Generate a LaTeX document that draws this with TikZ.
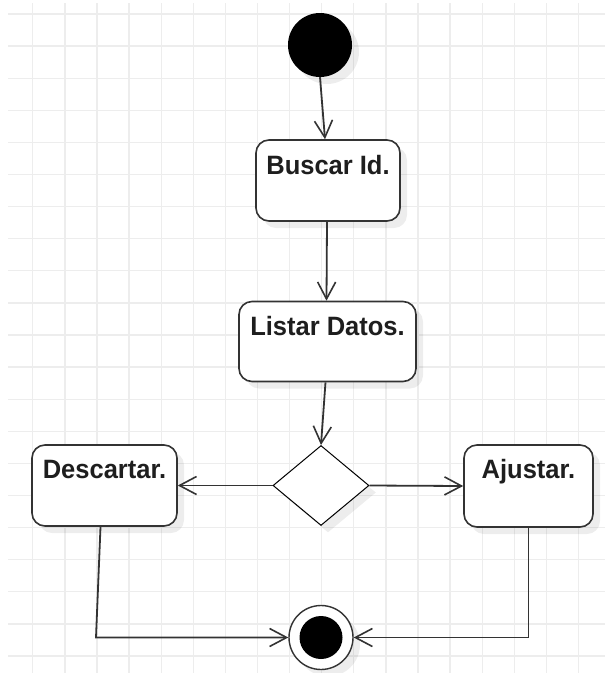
\documentclass[tikz,border=0pt]{standalone}
\usepackage{fontspec}
\setmainfont{Liberation Sans}
\usetikzlibrary{arrows.meta,shapes.geometric,shadows}
\definecolor{gridc}{HTML}{EDEDED}
\definecolor{linec}{HTML}{333333}
\definecolor{textc}{HTML}{1E1E1E}
\begin{document}
\begin{tikzpicture}[x=1pt,y=-1pt,
  shad/.style={drop shadow={shadow xshift=7pt,shadow yshift=-7pt,opacity=0.07,fill=black}},
  actbox/.style={draw=linec, line width=1.6pt, rounded corners=13pt, fill=white, shad, inner sep=0pt},
  lbl/.style={font=\fontsize{25.5}{30}\selectfont\bfseries, text=textc, anchor=base, inner sep=0pt, yscale=1.04},
  conn/.style={draw=linec, line width=1.8pt, -{Straight Barb[length=17pt,width=18pt,line width=1.6pt]}}]
\useasboundingbox (0,0) rectangle (605,673);
\fill[white] (0,0) rectangle (605,673);
% grid
\foreach \i in {0,...,17} \draw[gridc, line width=1.3pt] ({32.8+32.1*\i},3) -- ({32.8+32.1*\i},673);
\foreach \j in {0,...,20} \draw[gridc, line width=1.3pt] (8,{14+32.1*\j}) -- (605,{14+32.1*\j});
% nodes
\node[circle, fill=black, minimum size=64pt, inner sep=0pt, shad] (start) at (320,45) {};
\node[actbox, minimum width=144pt, minimum height=81pt] (buscar) at (328,180.5) {};
\node[actbox, minimum width=177pt, minimum height=80pt] (listar) at (327.5,341.5) {};
\node[diamond, draw=black, line width=1pt, fill=white, aspect=1.2, minimum width=96pt, minimum height=80pt, inner sep=0pt, shad] (dec) at (321,485.5) {};
\node[actbox, minimum width=145pt, minimum height=81pt] (descartar) at (104.5,485.5) {};
\node[actbox, minimum width=129pt, minimum height=82pt] (ajustar) at (528.5,486) {};
\node[circle, draw=linec, line width=1.4pt, fill=white, minimum size=64pt, inner sep=0pt, shad] (end) at (321,637.5) {};
\fill[black] (end.center) circle[radius=21.5pt];
% labels
\node[lbl] (tbuscar) at ([yshift=-35pt]buscar.north) {Buscar Id.};
\node[lbl] (tlistar) at ([yshift=-35pt]listar.north) {Listar Datos.};
\node[lbl] (tdescartar) at ([yshift=-34pt]descartar.north) {Descartar.};
\node[lbl] (tajustar) at ([yshift=-34pt]ajustar.north) {Ajustar.};
% connectors
\coordinate (c1) at (96,637.5);
\draw[conn] (start.south) -- ([xshift=-3pt]buscar.north);
\draw[conn] ([xshift=-1pt]buscar.south) -- ([xshift=-1pt]listar.north);
\draw[conn] ([xshift=-2pt]listar.south) -- (dec.north);
\draw[conn] (dec.west) -- (descartar.east);
\draw[conn] (dec.east) -- (ajustar.west);
\draw[conn] ([xshift=-4pt]descartar.south) -- (c1) -- (end.west);
\draw[conn] (ajustar.south) |- (end.east);
\end{tikzpicture}
\end{document}
